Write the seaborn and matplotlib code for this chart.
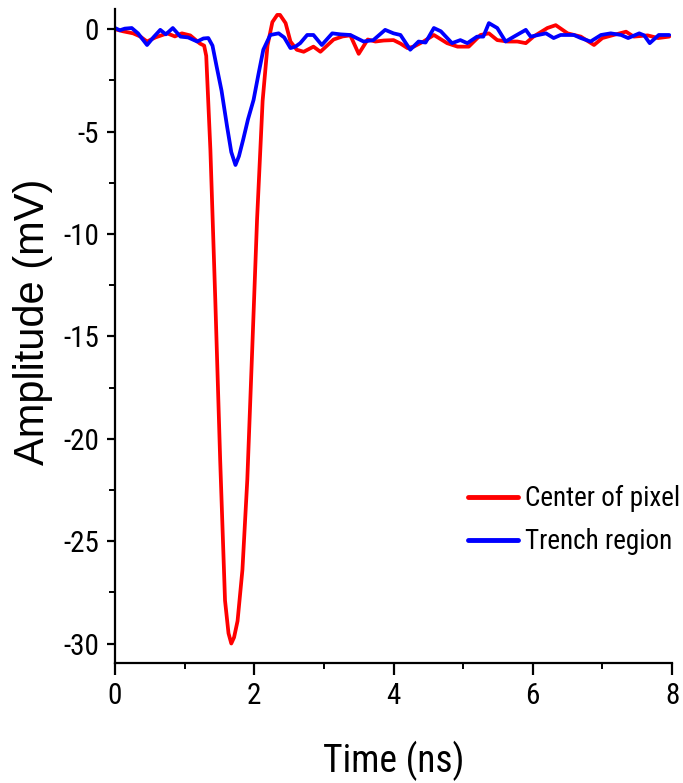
import numpy as np
import pandas as pd
import matplotlib
matplotlib.use("Agg")
import matplotlib.pyplot as plt
import seaborn as sns
from matplotlib.ticker import MultipleLocator

# ---- data ----
red_t = [0.00, 0.115, 0.26, 0.36, 0.46, 0.58, 0.75, 0.86, 0.96, 1.08, 1.22, 1.28, 1.31, 1.37,
         1.44, 1.51, 1.58, 1.63, 1.67, 1.71, 1.76, 1.83, 1.90, 1.97, 2.04, 2.12, 2.19, 2.26,
         2.33, 2.37, 2.45, 2.52, 2.61, 2.71, 2.85, 2.95, 3.14, 3.27, 3.38, 3.50, 3.63, 3.74,
         3.86, 4.00, 4.10, 4.20, 4.29, 4.43, 4.58, 4.77, 4.92, 5.08, 5.25, 5.37, 5.49, 5.64,
         5.78, 5.90, 6.01, 6.21, 6.33, 6.50, 6.69, 6.88, 7.00, 7.16, 7.34, 7.45, 7.65, 7.80, 7.96]
red_v = [0.0, -0.1, -0.2, -0.35, -0.6, -0.4, -0.2, -0.35, -0.2, -0.3, -0.7, -0.8, -1.3, -5.9,
         -13.2, -21.0, -27.9, -29.5, -30.0, -29.7, -28.9, -26.4, -22.0, -15.7, -9.3, -3.5, -0.8, 0.35,
         0.7, 0.7, 0.3, -0.6, -1.0, -1.1, -0.85, -1.1, -0.5, -0.35, -0.3, -1.2, -0.5, -0.6,
         -0.55, -0.53, -0.7, -0.92, -0.85, -0.6, -0.28, -0.68, -0.85, -0.85, -0.28, -0.2, -0.53, -0.6,
         -0.6, -0.68, -0.36, 0.06, 0.2, -0.2, -0.36, -0.77, -0.43, -0.28, -0.12, -0.36, -0.3, -0.43, -0.36]

blue_t = [0.00, 0.07, 0.14, 0.24, 0.33, 0.46, 0.55, 0.65, 0.73, 0.83, 0.94, 1.05, 1.18, 1.27,
          1.34, 1.40, 1.46, 1.53, 1.61, 1.67, 1.73, 1.78, 1.84, 1.91, 1.99, 2.06, 2.13, 2.23,
          2.35, 2.43, 2.52, 2.59, 2.66, 2.76, 2.85, 2.97, 3.12, 3.24, 3.38, 3.57, 3.71, 3.88,
          4.00, 4.10, 4.24, 4.36, 4.46, 4.58, 4.68, 4.84, 4.96, 5.06, 5.20, 5.29, 5.37, 5.49,
          5.61, 5.73, 5.90, 5.97, 6.19, 6.30, 6.40, 6.59, 6.69, 6.83, 6.98, 7.12, 7.27, 7.37,
          7.53, 7.60, 7.68, 7.81, 7.96]
blue_v = [0.06, -0.05, 0.03, 0.06, -0.2, -0.77, -0.4, -0.03, -0.25, 0.06, -0.36, -0.4, -0.6, -0.45,
          -0.43, -0.8, -1.83, -3.0, -4.76, -6.0, -6.63, -6.2, -5.4, -4.4, -3.45, -2.2, -1.0, -0.28,
          -0.2, -0.4, -0.92, -0.85, -0.68, -0.28, -0.28, -0.77, -0.2, -0.25, -0.28, -0.6, -0.53, -0.03,
          -0.2, -0.28, -1.0, -0.6, -0.65, 0.06, -0.1, -0.68, -0.53, -0.68, -0.36, -0.36, 0.3, 0.06,
          -0.6, -0.36, -0.03, -0.36, -0.2, -0.43, -0.28, -0.28, -0.43, -0.6, -0.28, -0.2, -0.28, -0.43,
          -0.2, -0.3, -0.68, -0.28, -0.28]

series_names = ["Center of pixel", "Trench region"]
series_colors = ["#ff0000", "#0000ff"]
x_ticks = [0, 2, 4, 6, 8]
y_ticks = [0, -5, -10, -15, -20, -25, -30]

df = pd.concat([
    pd.DataFrame({"Time": red_t, "Amp": red_v, "Series": series_names[0]}),
    pd.DataFrame({"Time": blue_t, "Amp": blue_v, "Series": series_names[1]}),
], ignore_index=True)

sns.set_theme(style="ticks")
narrow = ["Roboto Condensed", "Archivo Narrow", "DejaVu Sans"]
plt.rcParams["font.family"] = narrow
plt.rcParams["axes.unicode_minus"] = False

fig = plt.figure(figsize=(6.83, 7.83), dpi=100)
ax = fig.add_axes([0.1684, 0.1533, 0.9839 - 0.1684, 0.9888 - 0.1533])

sns.lineplot(data=df, x="Time", y="Amp", hue="Series", sort=False,
             palette=dict(zip(series_names, series_colors)), linewidth=2.7, ax=ax,
             estimator=None)

ax.set_xlim(0, 8)
ax.set_ylim(-30.95, 1.0)
ax.set_xticks(x_ticks)
ax.set_yticks(y_ticks)
ax.set_yticklabels([str(v) for v in y_ticks])
ax.xaxis.set_minor_locator(MultipleLocator(1))
ax.yaxis.set_minor_locator(MultipleLocator(2.5))
sns.despine(ax=ax)
for s in ["left", "bottom"]:
    ax.spines[s].set_linewidth(1.6)
    ax.spines[s].set_color("black")
ax.tick_params(axis="both", which="major", labelsize=21, width=1.6, color="black",
               direction="out", pad=5.5, labelcolor="black")
ax.tick_params(axis="x", which="major", length=8.5)
ax.tick_params(axis="y", which="major", length=6)
ax.tick_params(axis="both", which="minor", length=4, width=1.4, color="black")
ax.grid(False)

ax.set_xlabel("Time (ns)", fontsize=27, color="black", family=narrow)
ax.xaxis.set_label_coords(0.5, -0.119)
ax.set_ylabel("Amplitude (mV)", fontsize=30, color="black",
              family=["Liberation Sans", "DejaVu Sans"])
ax.yaxis.set_label_coords(-0.111, 0.522)

leg = ax.legend(frameon=False, fontsize=19.5, loc="upper left",
                bbox_to_anchor=(468 / 683, 1 - 485 / 783), bbox_transform=fig.transFigure,
                borderaxespad=0, borderpad=0, handlelength=1.85, handletextpad=0.25,
                labelspacing=0.6, title=None)
for line in leg.get_lines():
    line.set_linewidth(3.5)
for t in leg.get_texts():
    t.set_color("black")

fig.savefig("out.png", dpi=100)
